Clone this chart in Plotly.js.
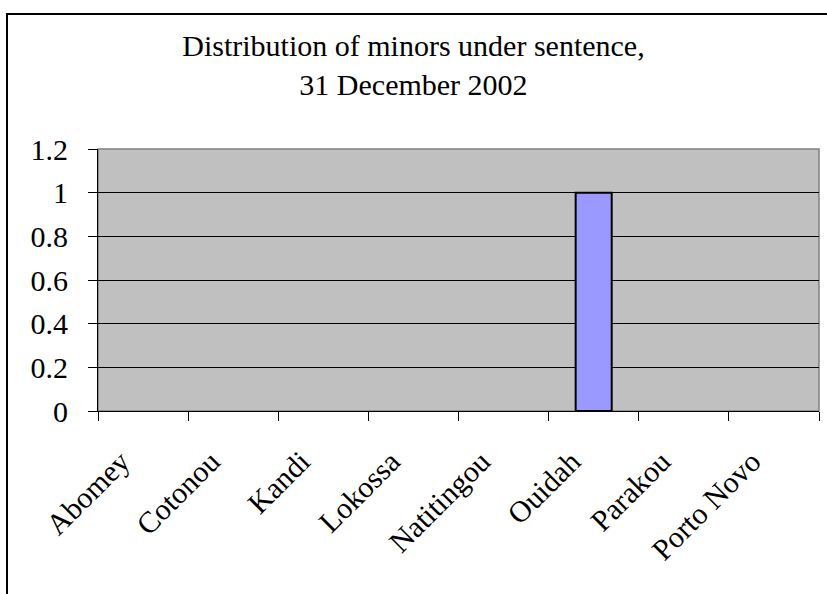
<!DOCTYPE html>
<html>
<head>
<meta charset="utf-8">
<script src="https://cdn.plot.ly/plotly-3.0.1.min.js"></script>
<style>
  html, body { margin: 0; padding: 0; background: #ffffff; }
  #wrap { position: relative; width: 827px; height: 594px; overflow: hidden; }
  #chart { position: absolute; left: 0; top: 0; width: 827px; height: 594px; }
  #frame { position: absolute; left: 6px; top: 13px; width: 900px; height: 700px;
           border-left: 2px solid #000; border-top: 2px solid #000; pointer-events: none; }
</style>
</head>
<body>
<div id="wrap">
  <div id="chart"></div>
  <div id="frame"></div>
</div>
<script>
const categories = ["Abomey", "Cotonou", "Kandi", "Lokossa", "Natitingou", "Ouidah", "Parakou", "Porto Novo"];
const minors = [0, 0, 0, 0, 0, 1, 0, 0];
const yTickValues = [0, 0.2, 0.4, 0.6, 0.8, 1, 1.2];
const yTickLabels = ["0", "0.2", "0.4", "0.6", "0.8", "1", "1.2"];
const chartTitle = "Distribution of minors under sentence,<br>31 December 2002";

const serif = "Liberation Serif, Times New Roman, serif";

const trace = {
  type: "bar",
  x: categories,
  y: minors,
  width: 0.4,
  marker: {
    color: "#9999FF",
    line: { color: "#000000", width: minors.map(v => (v > 0 ? 2 : 0)) }
  },
  hoverinfo: "x+y"
};

const layout = {
  width: 827,
  height: 594,
  paper_bgcolor: "rgba(0,0,0,0)",
  plot_bgcolor: "#C0C0C0",
  margin: { l: 98, r: 8, t: 149, b: 183 },
  showlegend: false,
  title: {
    text: chartTitle,
    font: { family: serif, size: 30, color: "#000000" },
    x: 0.5, xanchor: "center",
    y: 1 - 56 / 594, yanchor: "middle", yref: "container"
  },
  xaxis: {
    type: "category",
    range: [-0.5, 7.5],
    tickangle: -45,
    tickson: "boundaries",
    ticks: "outside",
    ticklen: 9,
    tickcolor: "#000000",
    ticklabelstandoff: 20,
    ticklabelshift: -22,
    showline: true,
    linecolor: "#000000",
    linewidth: 1,
    showgrid: false,
    tickfont: { family: serif, size: 30, color: "#000000" }
  },
  yaxis: {
    range: [0, 1.2],
    tickmode: "array",
    tickvals: yTickValues,
    ticktext: yTickLabels,
    ticks: "outside",
    ticklen: 9,
    tickcolor: "#000000",
    ticklabelstandoff: 14,
    showline: true,
    linecolor: "#000000",
    linewidth: 1,
    showgrid: true,
    gridcolor: "#000000",
    gridwidth: 1,
    zeroline: false,
    tickfont: { family: serif, size: 30, color: "#000000" }
  },
  shapes: [{
    type: "rect", xref: "paper", yref: "paper",
    x0: 0, x1: 1, y0: 0, y1: 1,
    line: { color: "#808080", width: 1.5 }, fillcolor: "rgba(0,0,0,0)", layer: "below"
  }]
};

Plotly.newPlot("chart", [trace], layout, { displayModeBar: false, staticPlot: true });
</script>
</body>
</html>
